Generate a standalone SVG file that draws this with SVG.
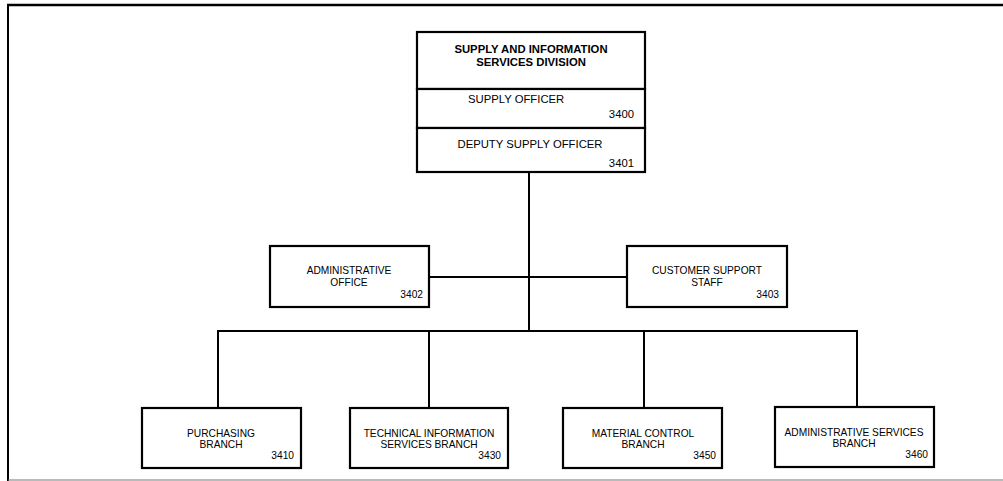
<svg xmlns="http://www.w3.org/2000/svg" width="1003" height="481" viewBox="0 0 1003 481">
<style>
.box{fill:#fff;stroke:#000;stroke-width:2.2}
.ln{stroke:#000;stroke-width:2;fill:none}
text{font-family:"Liberation Sans",Arial,sans-serif;fill:#000}
.t{font-size:11.3px}
.b{font-size:11.3px;font-weight:bold}
.s{font-size:10.2px}
.c{text-anchor:middle}
.r{text-anchor:end}
</style>
<rect width="1003" height="481" fill="#fff"/>
<g id="frame">
<line x1="7" y1="5" x2="1003" y2="5" stroke="#000" stroke-width="2.5"/>
<line x1="8" y1="4" x2="8" y2="481" stroke="#000" stroke-width="2"/>
<line x1="8" y1="480" x2="1003" y2="480" stroke="#777" stroke-width="1.2"/>
</g>
<g id="connectors">
<line class="ln" x1="529" y1="172" x2="529" y2="331"/>
<line class="ln" x1="429" y1="277" x2="627" y2="277"/>
<line class="ln" x1="217" y1="331" x2="858" y2="331"/>
<line class="ln" x1="218" y1="331" x2="218" y2="408"/>
<line class="ln" x1="429" y1="331" x2="429" y2="408"/>
<line class="ln" x1="644" y1="331" x2="644" y2="408"/>
<line class="ln" x1="857" y1="331" x2="857" y2="407"/>
</g>
<g id="division">
<rect class="box" x="417" y="32" width="228" height="57"/>
<text class="b c" x="531" y="53">SUPPLY AND INFORMATION</text>
<text class="b c" x="531" y="66">SERVICES DIVISION</text>
</g>
<g id="n3400">
<rect class="box" x="417" y="89" width="228" height="39"/>
<text class="t" x="468" y="103">SUPPLY OFFICER</text>
<text class="t r" x="634" y="118">3400</text>
</g>
<g id="n3401">
<rect class="box" x="417" y="128" width="228" height="44"/>
<text class="t c" x="530" y="148">DEPUTY SUPPLY OFFICER</text>
<text class="t r" x="634" y="167">3401</text>
</g>
<g id="n3402">
<rect class="box" x="270" y="246" width="159" height="61"/>
<text class="s c" x="349" y="274">ADMINISTRATIVE</text>
<text class="s c" x="349" y="286">OFFICE</text>
<text class="s r" x="423" y="298">3402</text>
</g>
<g id="n3403">
<rect class="box" x="627" y="246" width="160" height="61"/>
<text class="s c" x="707" y="274">CUSTOMER SUPPORT</text>
<text class="s c" x="707" y="286">STAFF</text>
<text class="s r" x="779" y="298">3403</text>
</g>
<g id="n3410">
<rect class="box" x="142" y="408" width="159" height="60"/>
<text class="s c" x="221" y="437">PURCHASING</text>
<text class="s c" x="221" y="448">BRANCH</text>
<text class="s r" x="294" y="459">3410</text>
</g>
<g id="n3430">
<rect class="box" x="350" y="408" width="158" height="60"/>
<text class="s c" x="429" y="437">TECHNICAL INFORMATION</text>
<text class="s c" x="429" y="448">SERVICES BRANCH</text>
<text class="s r" x="501" y="459">3430</text>
</g>
<g id="n3450">
<rect class="box" x="563" y="408" width="159" height="60"/>
<text class="s c" x="643" y="437">MATERIAL CONTROL</text>
<text class="s c" x="643" y="448">BRANCH</text>
<text class="s r" x="716" y="459">3450</text>
</g>
<g id="n3460">
<rect class="box" x="775" y="407" width="159" height="60"/>
<text class="s c" x="854" y="436">ADMINISTRATIVE SERVICES</text>
<text class="s c" x="854" y="447">BRANCH</text>
<text class="s r" x="928" y="458">3460</text>
</g>
</svg>
